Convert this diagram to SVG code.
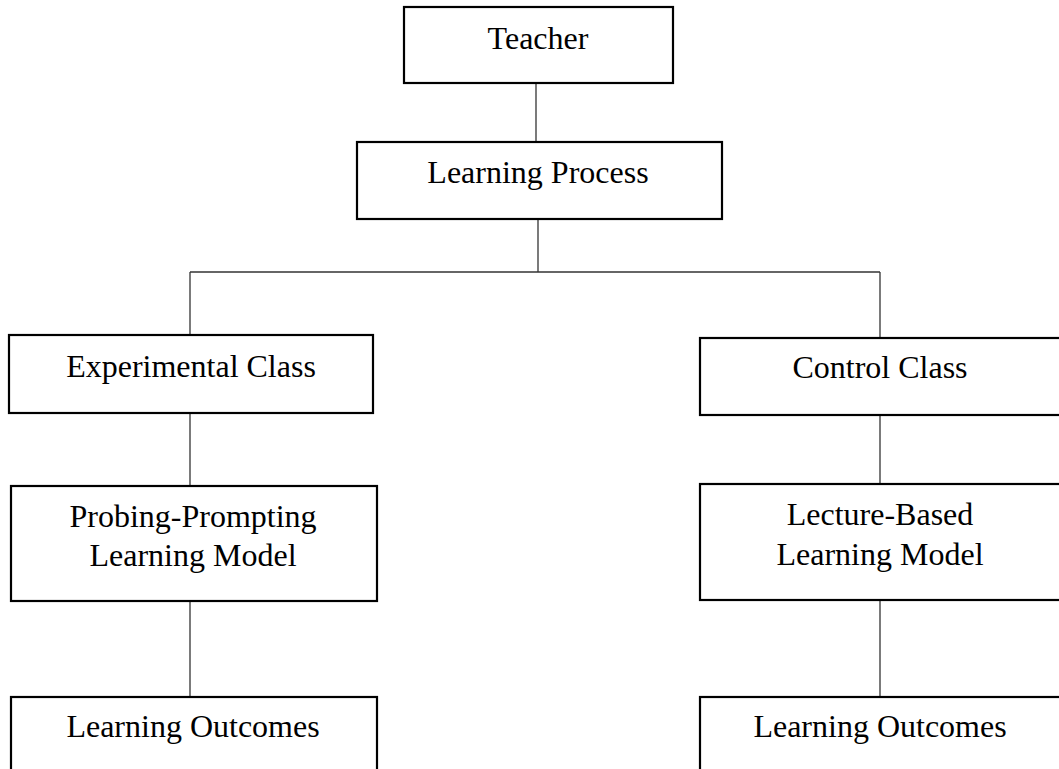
<svg xmlns="http://www.w3.org/2000/svg" width="1059" height="769" viewBox="0 0 1059 769">
<style>
.box{fill:#fff;stroke:#000;stroke-width:2.2}
.lbl{font-family:"Liberation Serif","Times New Roman",serif;font-size:32px;fill:#000;text-anchor:middle}
.conn{stroke:#333;stroke-width:1.3;fill:none}
</style>
<rect width="1059" height="769" fill="#fff"/>
<g id="connectors">
<line class="conn" x1="536" y1="83" x2="536" y2="143"/>
<line class="conn" x1="538" y1="218" x2="538" y2="272"/>
<line class="conn" x1="190" y1="272" x2="880" y2="272"/>
<line class="conn" x1="190" y1="272" x2="190" y2="335"/>
<line class="conn" x1="880" y1="272" x2="880" y2="338"/>
<line class="conn" x1="190" y1="413" x2="190" y2="486"/>
<line class="conn" x1="880" y1="415" x2="880" y2="484"/>
<line class="conn" x1="190" y1="601" x2="190" y2="697"/>
<line class="conn" x1="880" y1="600" x2="880" y2="697"/>
</g>
<g id="teacher">
<rect class="box" x="404" y="7" width="269" height="76"/>
<text class="lbl" x="538" y="49">Teacher</text>
</g>
<g id="learning-process">
<rect class="box" x="357" y="142" width="365" height="77"/>
<text class="lbl" x="538" y="183">Learning Process</text>
</g>
<g id="experimental-class">
<rect class="box" x="9" y="335" width="364" height="78"/>
<text class="lbl" x="191" y="377">Experimental Class</text>
</g>
<g id="control-class">
<rect class="box" x="700" y="338" width="370" height="77"/>
<text class="lbl" x="880" y="378">Control Class</text>
</g>
<g id="probing-prompting">
<rect class="box" x="11" y="486" width="366" height="115"/>
<text class="lbl" x="193" y="527">Probing-Prompting</text>
<text class="lbl" x="193" y="566">Learning Model</text>
</g>
<g id="lecture-based">
<rect class="box" x="700" y="484" width="370" height="116"/>
<text class="lbl" x="880" y="525">Lecture-Based</text>
<text class="lbl" x="880" y="565">Learning Model</text>
</g>
<g id="outcomes-left">
<rect class="box" x="11" y="697" width="366" height="90"/>
<text class="lbl" x="193" y="737">Learning Outcomes</text>
</g>
<g id="outcomes-right">
<rect class="box" x="700" y="697" width="370" height="90"/>
<text class="lbl" x="880" y="737">Learning Outcomes</text>
</g>
</svg>
